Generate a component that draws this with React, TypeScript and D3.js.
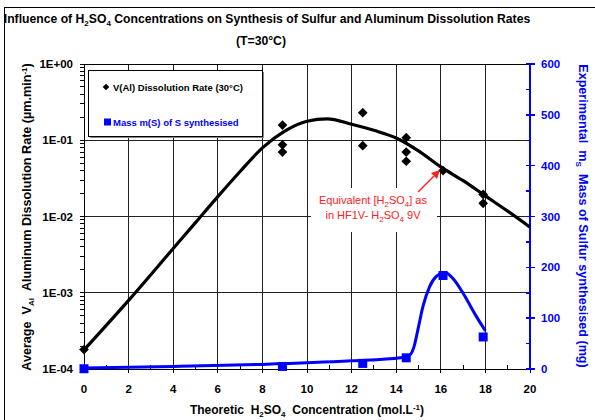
import * as d3 from "d3";
import { useEffect, useRef } from "react";

// measured Al dissolution rates (um/min), log axis
const rateX = [0, 8.9, 8.9, 8.9, 12.5, 12.5, 14.45, 14.45, 14.45, 16.1, 17.9, 17.9];
const rateY = [1.8e-4, 0.158, 0.087, 0.07, 0.23, 0.085, 0.108, 0.07, 0.053, 0.04, 0.0195, 0.0149];

// trend curve of the rates (log10 values)
const rateFitX = [0, 2, 4, 5, 6, 7, 8, 9, 10, 10.9, 12, 13, 14, 15, 16, 17, 18, 19, 20];
const rateFitLog = [-3.75, -3.1, -2.42, -2.08, -1.74, -1.41, -1.1, -0.88, -0.75, -0.72, -0.79, -0.87, -0.97, -1.14, -1.35, -1.53, -1.73, -1.93, -2.14];

// mass of sulfur synthesised (mg), right axis
const massX = [0, 8.9, 12.5, 14.45, 16.1, 17.9];
const massY = [0.5, 5, 11, 22, 184, 63];

const massFitX = [0, 4, 8, 12, 14.2, 14.6, 14.8, 15.0, 15.2, 15.5, 15.8, 16.2, 16.6, 17.0, 17.6, 18.0];
const massFitY = [2, 5, 9, 16, 22, 27, 44, 83, 123, 162, 182, 190, 175, 149, 103, 75];

const xTicks = [0, 2, 4, 6, 8, 10, 12, 14, 16, 18, 20];
const yLeftTicks = [1e-4, 1e-3, 1e-2, 1e-1, 1];
const yLeftLabels = ["1E-04", "1E-03", "1E-02", "1E-01", "1E+00"];
const yRightTicks = [0, 100, 200, 300, 400, 500, 600];

const FONT = "Arial, 'Liberation Sans', sans-serif";
const BLUE = "#0000ff";
const SP2 = "\u00a0\u00a0";

function App() {
  const ref = useRef<SVGSVGElement | null>(null);

  useEffect(() => {
    const svg = d3.select(ref.current);
    svg.selectAll("*").remove();

    const left = 84, right = 530, top = 64, bottom = 369;

    const x = d3.scaleLinear().domain([0, 20]).range([left, right]);
    const yL = d3.scaleLog().domain([1e-4, 1]).range([bottom, top]);
    const yR = d3.scaleLinear().domain([0, 600]).range([bottom, top]);

    // outer frame
    svg.append("rect")
      .attr("x", 4.5).attr("y", 7.5)
      .attr("width", 600).attr("height", 420)
      .attr("fill", "white").attr("stroke", "#000").attr("stroke-width", 1);

    // title
    const title = svg.append("text")
      .attr("x", 267).attr("y", 23)
      .attr("text-anchor", "middle")
      .attr("font-family", FONT).attr("font-weight", "bold").attr("font-size", 12.2);
    title.append("tspan").text("Influence of H");
    title.append("tspan").attr("font-size", 8).attr("dy", 3).text("2");
    title.append("tspan").attr("dy", -3).text("SO");
    title.append("tspan").attr("font-size", 8).attr("dy", 3).text("4");
    title.append("tspan").attr("dy", -3).text(" Concentrations on Synthesis of Sulfur and Aluminum Dissolution Rates");
    svg.append("text")
      .attr("x", 261).attr("y", 45)
      .attr("text-anchor", "middle")
      .attr("font-family", FONT).attr("font-weight", "bold").attr("font-size", 12.2)
      .text("(T=30°C)");

    // grid
    const grid = svg.append("g").attr("stroke", "#222").attr("stroke-width", 1).attr("shape-rendering", "crispEdges");
    xTicks.filter(t => t > 0 && t < 20).forEach(t => {
      grid.append("line").attr("x1", x(t)).attr("x2", x(t)).attr("y1", top).attr("y2", bottom);
    });
    yLeftTicks.filter(t => t > 1e-4).forEach(t => {
      grid.append("line").attr("x1", left).attr("x2", right).attr("y1", yL(t)).attr("y2", yL(t));
    });

    // annotation box (white behind text)
    svg.append("rect")
      .attr("x", 311).attr("y", 188).attr("width", 126).attr("height", 44)
      .attr("fill", "white");

    // axes lines
    const ax = svg.append("g").attr("shape-rendering", "crispEdges");
    ax.append("line").attr("x1", left).attr("x2", left).attr("y1", top).attr("y2", bottom).attr("stroke", "#000");
    ax.append("line").attr("x1", left).attr("x2", right).attr("y1", bottom).attr("y2", bottom).attr("stroke", "#000");

    // left log ticks
    for (let e = -4; e < 0; e++) {
      for (let m = 1; m <= 9; m++) {
        const v = m * Math.pow(10, e);
        ax.append("line").attr("x1", left - 4).attr("x2", left).attr("y1", yL(v)).attr("y2", yL(v)).attr("stroke", "#000");
      }
    }
    ax.append("line").attr("x1", left - 4).attr("x2", left).attr("y1", yL(1)).attr("y2", yL(1)).attr("stroke", "#000");
    svg.append("g").selectAll("text").data(yLeftTicks).join("text")
      .attr("x", 73).attr("y", d => yL(d) + 4)
      .attr("text-anchor", "end")
      .attr("font-family", FONT).attr("font-weight", "bold").attr("font-size", 11.5)
      .text((_, i) => yLeftLabels[i]);

    // x ticks
    d3.range(0, 21).forEach(t => {
      if (t % 2 === 0) {
        ax.append("line").attr("x1", x(t)).attr("x2", x(t)).attr("y1", bottom).attr("y2", bottom + 4).attr("stroke", "#000");
      } else {
        ax.append("line").attr("x1", x(t)).attr("x2", x(t)).attr("y1", bottom - 4).attr("y2", bottom).attr("stroke", "#000");
      }
    });
    svg.append("g").selectAll("text").data(xTicks).join("text")
      .attr("x", d => x(d)).attr("y", 393)
      .attr("text-anchor", "middle")
      .attr("font-family", FONT).attr("font-weight", "bold").attr("font-size", 11.5)
      .text(d => d);

    // top border of plot
    ax.append("line").attr("x1", left).attr("x2", right).attr("y1", top).attr("y2", top).attr("stroke", "#000");

    // right axis (blue)
    ax.append("line").attr("x1", right).attr("x2", right).attr("y1", top).attr("y2", bottom).attr("stroke", BLUE).attr("stroke-width", 1.5);
    d3.range(0, 601, 50).forEach(v => {
      const major = v % 100 === 0;
      ax.append("line")
        .attr("x1", right - 4).attr("x2", right + (major ? 5 : 1))
        .attr("y1", yR(v)).attr("y2", yR(v))
        .attr("stroke", BLUE).attr("stroke-width", 1.5);
    });
    svg.append("g").selectAll("text").data(yRightTicks).join("text")
      .attr("x", 541).attr("y", d => yR(d) + 4)
      .attr("font-family", FONT).attr("font-weight", "bold").attr("font-size", 11.5)
      .attr("fill", BLUE)
      .text(d => d);

    // rate trend curve
    const rateLine = d3.line<number>()
      .x((_, i) => x(rateFitX[i]))
      .y(d => yL(Math.pow(10, d)))
      .curve(d3.curveMonotoneX);
    svg.append("path")
      .attr("d", rateLine(rateFitLog))
      .attr("fill", "none").attr("stroke", "#000").attr("stroke-width", 3.2);

    // mass trend curve
    const massLine = d3.line<number>()
      .x((_, i) => x(massFitX[i]))
      .y(d => yR(d))
      .curve(d3.curveMonotoneX);
    svg.append("path")
      .attr("d", massLine(massFitY))
      .attr("fill", "none").attr("stroke", BLUE).attr("stroke-width", 3);

    // markers
    const diamond = d3.symbol().type(d3.symbolDiamond2).size(60);
    svg.append("g").selectAll("path").data(rateY).join("path")
      .attr("d", diamond)
      .attr("transform", (d, i) => `translate(${x(rateX[i])},${yL(d)})`)
      .attr("fill", "#000");
    svg.append("g").selectAll("rect").data(massY).join("rect")
      .attr("x", (_, i) => x(massX[i]) - 4.5)
      .attr("y", d => yR(d) - 4.5)
      .attr("width", 9).attr("height", 9)
      .attr("fill", BLUE);

    // annotation
    const ann = svg.append("g").attr("font-family", FONT).attr("font-size", 11).attr("fill", "#ff2020").attr("text-anchor", "middle");
    const a1 = ann.append("text").attr("x", 373).attr("y", 204);
    a1.append("tspan").text("Equivalent [H");
    a1.append("tspan").attr("font-size", 8).attr("dy", 3).text("2");
    a1.append("tspan").attr("dy", -3).text("SO");
    a1.append("tspan").attr("font-size", 8).attr("dy", 3).text("4");
    a1.append("tspan").attr("dy", -3).text("] as");
    const a2 = ann.append("text").attr("x", 373).attr("y", 219);
    a2.append("tspan").text("in HF1V- H");
    a2.append("tspan").attr("font-size", 8).attr("dy", 3).text("2");
    a2.append("tspan").attr("dy", -3).text("SO");
    a2.append("tspan").attr("font-size", 8).attr("dy", 3).text("4");
    a2.append("tspan").attr("dy", -3).text(" 9V");
    svg.append("line")
      .attr("x1", 418).attr("y1", 192).attr("x2", 434).attr("y2", 176)
      .attr("stroke", "#ff2020").attr("stroke-width", 1.5);
    svg.append("path")
      .attr("d", "M440,170 L431,173 L437,179 Z")
      .attr("fill", "#ff2020");

    // legend
    svg.append("rect").attr("x", 90).attr("y", 72).attr("width", 174).attr("height", 66).attr("fill", "#888");
    svg.append("rect").attr("x", 88.5).attr("y", 70.5).attr("width", 174).attr("height", 66)
      .attr("fill", "white").attr("stroke", "#000").attr("stroke-width", 1);
    svg.append("path")
      .attr("d", d3.symbol().type(d3.symbolDiamond2).size(28))
      .attr("transform", "translate(106,87)")
      .attr("fill", "#000");
    svg.append("text").attr("x", 113).attr("y", 91)
      .attr("font-family", FONT).attr("font-weight", "bold").attr("font-size", 9.5)
      .text("V(Al) Dissolution Rate (30°C)");
    svg.append("rect").attr("x", 104).attr("y", 118.5).attr("width", 7).attr("height", 7).attr("fill", BLUE);
    svg.append("text").attr("x", 113).attr("y", 126)
      .attr("font-family", FONT).attr("font-weight", "bold").attr("font-size", 9.5)
      .attr("fill", BLUE)
      .text("Mass m(S) of S synthesised");

    // x axis title
    const xt = svg.append("text").attr("x", 307).attr("y", 414)
      .attr("text-anchor", "middle")
      .attr("font-family", FONT).attr("font-weight", "bold").attr("font-size", 12);
    xt.append("tspan").text("Theoretic" + SP2 + "H");
    xt.append("tspan").attr("font-size", 8).attr("dy", 3).text("2");
    xt.append("tspan").attr("dy", -3).text("SO");
    xt.append("tspan").attr("font-size", 8).attr("dy", 3).text("4");
    xt.append("tspan").attr("dy", -3).text(SP2 + "Concentration (mol.L");
    xt.append("tspan").attr("font-size", 8).attr("dy", -4).text("-1");
    xt.append("tspan").attr("dy", 4).text(")");

    // left axis title
    const yt = svg.append("text")
      .attr("transform", "translate(31,217) rotate(-90)")
      .attr("text-anchor", "middle")
      .attr("font-family", FONT).attr("font-weight", "bold").attr("font-size", 12.6);
    yt.append("tspan").text("Average" + SP2 + "V");
    yt.append("tspan").attr("font-size", 8).attr("dy", 3).text("Al");
    yt.append("tspan").attr("dy", -3).text(SP2 + "Aluminum Dissolution Rate (µm.min");
    yt.append("tspan").attr("font-size", 8).attr("dy", -4).text("-1");
    yt.append("tspan").attr("dy", 4).text(")");

    // right axis title
    const rt = svg.append("text")
      .attr("transform", "translate(579,216) rotate(90)")
      .attr("text-anchor", "middle")
      .attr("font-family", FONT).attr("font-weight", "bold").attr("font-size", 12.6)
      .attr("fill", BLUE);
    rt.append("tspan").text("Experimental" + SP2 + "m");
    rt.append("tspan").attr("font-size", 8).attr("dy", 3).text("S");
    rt.append("tspan").attr("dy", -3).text(SP2 + "Mass of Sulfur synthesised (mg)");
  }, []);

  return (
    <svg
      ref={ref}
      width={595}
      height={420}
      style={{ position: "absolute", left: 0, top: 0, background: "white" }}
    />
  );
}

export default App;
